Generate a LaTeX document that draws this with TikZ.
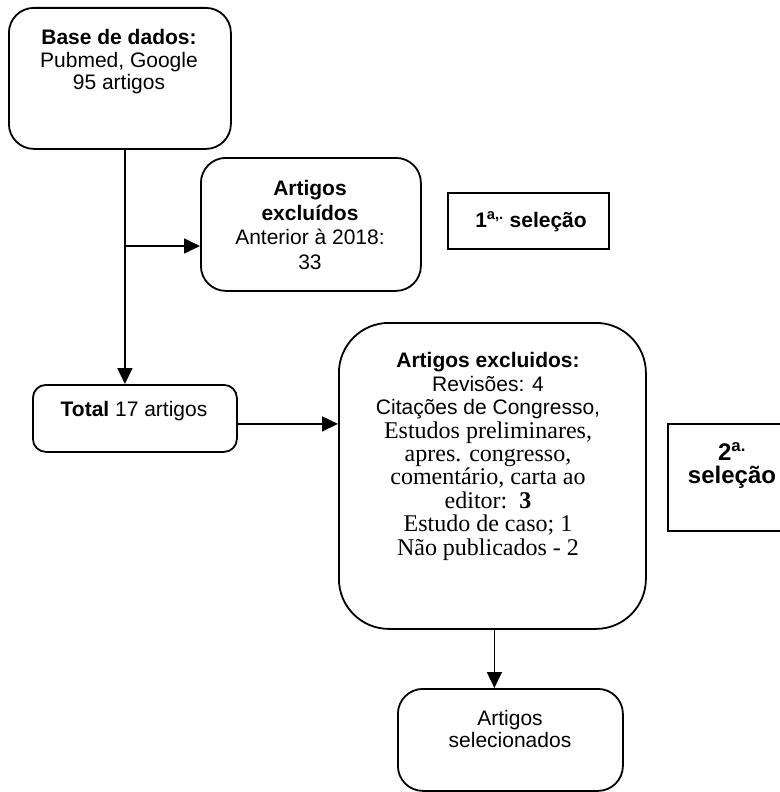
\documentclass[tikz,border=0pt]{standalone}
\usepackage{fontspec}
\setmainfont{Liberation Sans}
\newfontfamily\tnr{Liberation Serif}
\usetikzlibrary{arrows.meta,calc}
\begin{document}
\begin{tikzpicture}[x=1pt,y=-1pt,
  rbox/.style={draw, line width=1.8pt, rounded corners=#1, inner sep=0pt, anchor=north west},
  sbox/.style={draw, line width=2pt, inner sep=0pt, anchor=north west},
  txt/.style={align=center, inner sep=0pt, font=\fontsize{21}{22.5}\selectfont},
  arr/.style={line width=1.6pt, -{Triangle[length=16pt,width=15pt]}},
  plain/.style={line width=1.6pt},
  tms/.style={}
]
\useasboundingbox (0,0) rectangle (779,792);

% boxes
\node[rbox=25, minimum width=222pt, minimum height=141pt] (b1) at (8,7) {};
\node[rbox=25, minimum width=220pt, minimum height=133pt] (b2) at (200,157) {};
\node[sbox, minimum width=161pt, minimum height=56pt] (s1) at (447,192) {};
\node[rbox=13, minimum width=204pt, minimum height=67pt] (tot) at (32,384) {};
\node[rbox=50, minimum width=307pt, minimum height=306pt] (big) at (338,322) {};
\node[sbox, minimum width=130pt, minimum height=107pt] (s2) at (667,423) {};
\node[rbox=25, minimum width=225pt, minimum height=102pt] (fin) at (397,688) {};

% texts
\node[txt] (b1t) at (119,62) {\textbf{Base de dados:}\\Pubmed, Google\\95 artigos};
\node[txt, font=\fontsize{21}{24.5}\selectfont] (b2t) at (310,225) {\textbf{Artigos}\\\textbf{excluídos}\\Anterior à 2018:\\33};
\node[txt, anchor=base, font=\bfseries\fontsize{21}{22.5}\selectfont] (s1t) at (531,227) {1\textsuperscript{a,.} seleção};
\node[txt] (tott) at (134,410.7) {\textbf{Total} 17 artigos};
\node[txt, font=\fontsize{21}{23.4}\selectfont] (bigt) at (488,456.5) {\textbf{Artigos excluidos:}\\Revisões: 4\\Citações de Congresso,\\
{\tnr\fontsize{24}{23.4}\selectfont Estudos preliminares,}\\
{\tnr\fontsize{24}{23.4}\selectfont apres. congresso,}\\
{\tnr\fontsize{24}{23.4}\selectfont comentário, carta ao}\\
{\tnr\fontsize{24}{23.4}\selectfont editor:\ \ \textbf{3}}\\
{\tnr\fontsize{24}{23.4}\selectfont Estudo de caso; 1}\\
{\tnr\fontsize{24}{23.4}\selectfont Não publicados - 2}};
\node[txt, font=\bfseries\fontsize{24}{23}\selectfont] (s2t) at (732,465) {2\textsuperscript{a.}\\seleção};
\node[txt] (fint) at (510,729) {Artigos\\selecionados};

% connectors
\coordinate (top) at ([xshift=5pt]b1.south);
\coordinate (j) at (124,246);
\draw[arr] (top) -- (top |- tot.north);
\draw[arr] (j) -- (j -| b2.west);
\coordinate (t1) at ([yshift=-5.5pt]tot.east);
\draw[arr] (t1) -- (t1 -| big.west);
\coordinate (bb) at ([xshift=2pt]big.south);
\draw[arr] (bb) -- (bb |- fin.north);
\end{tikzpicture}
\end{document}
